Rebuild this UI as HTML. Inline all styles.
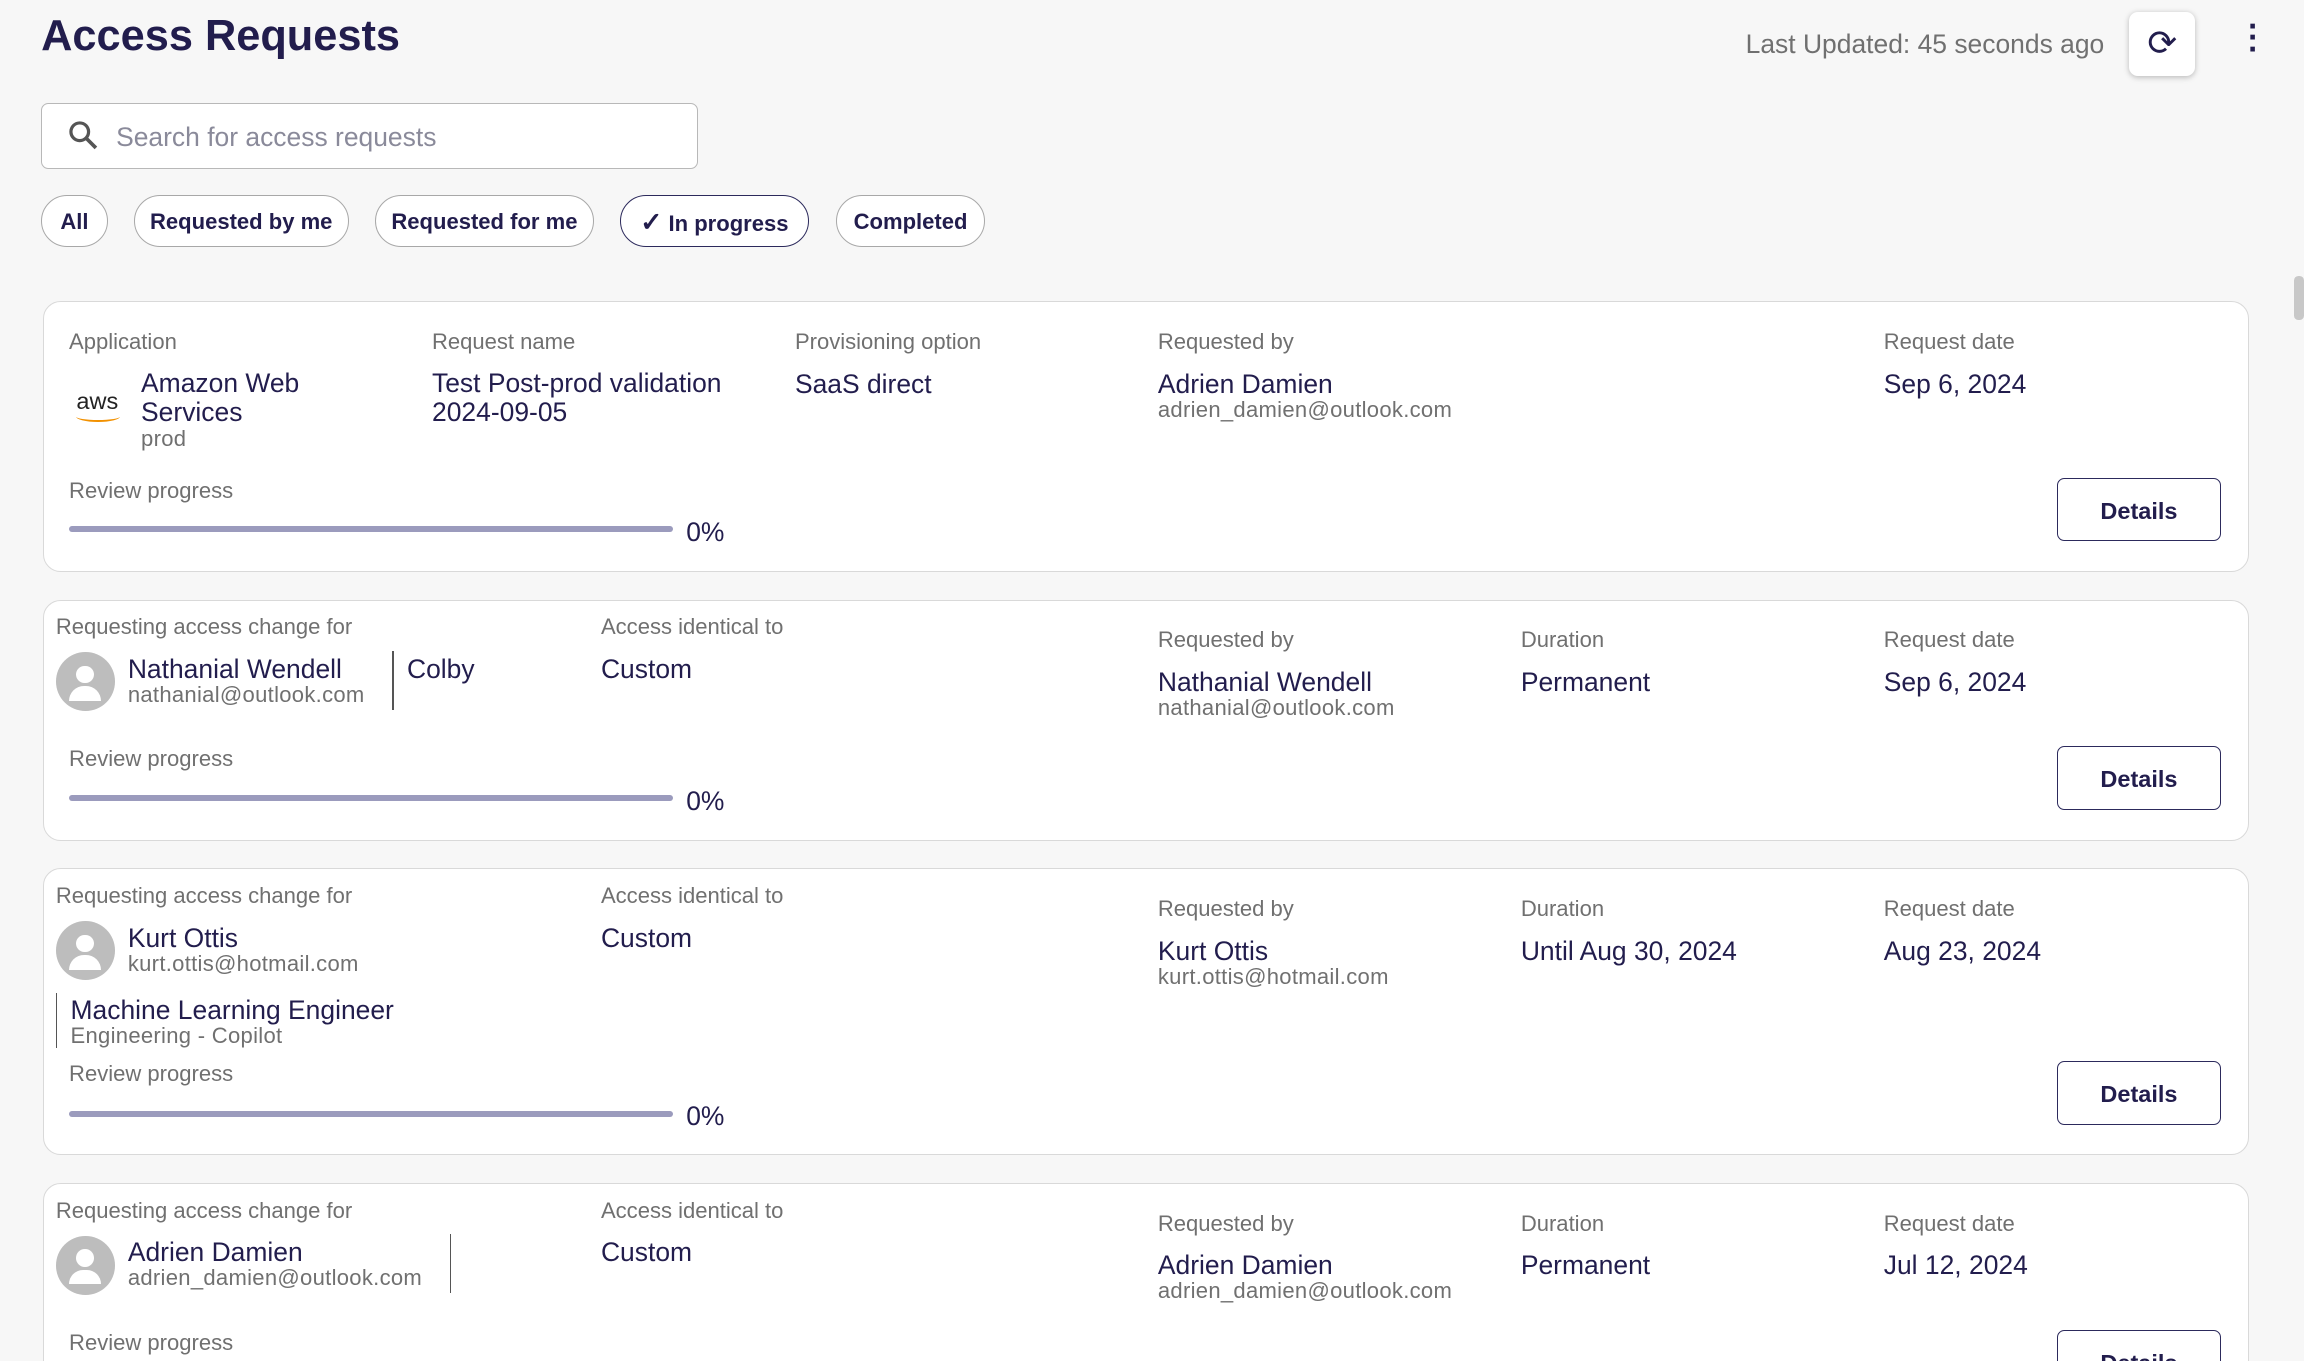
<!DOCTYPE html>
<html><head><meta charset="utf-8"><style>
html,body{margin:0;padding:0;background:#f7f7f7;overflow:hidden}
body{width:2304px;height:1361px}
#r{zoom:1.46939;position:relative;width:1568px;height:926px;font-family:"Liberation Sans",sans-serif;color:#221d4d}
.a{position:absolute;white-space:nowrap}
.lb{font-size:15px;color:#707070;margin-top:1px}
.v{font-size:18px;color:#221d4d;margin-top:1px}
.em{font-size:15px;color:#707070;margin-top:1px;letter-spacing:0.2px}
.card{position:absolute;left:29px;width:1500px;background:#fff;border:1px solid #d9d9d9;border-radius:12px}
.chip{position:absolute;top:133px;height:34px;border:1px solid #a8a8a8;border-radius:18px;font-size:15px;font-weight:bold;line-height:36px;text-align:center;background:#fff;color:#221d4d}
.btn{position:absolute;width:110px;height:42px;border:1px solid #2c2a5c;border-radius:5px;font-size:16px;font-weight:bold;text-align:center;line-height:44px;background:#fff}
.bar{position:absolute;height:4px;width:411px;background:#9b9bbd;border-radius:2px}
.av{position:absolute;width:40px;height:40px;border-radius:50%;background:#bdbdbd;overflow:hidden}
.av:before{content:"";position:absolute;left:14px;top:9px;width:12px;height:12px;border-radius:50%;background:#fff}
.av:after{content:"";position:absolute;left:9px;top:23px;width:22px;height:10px;border-radius:11px 11px 0 0;background:#fff}
.vl{position:absolute;width:1px;background:#555}
</style></head><body><div id="r">
<div class="a" style="left:28px;top:8px;font-size:29.5px;font-weight:bold;color:#221d4d">Access Requests</div>
<div class="a" style="left:1188px;top:20px;font-size:18px;color:#707070">Last Updated: 45 seconds ago</div>
<div class="a" style="left:1449px;top:8px;width:45px;height:44px;background:#fff;border-radius:6px;box-shadow:0 1px 4px rgba(0,0,0,.25);text-align:center;line-height:44px;font-size:24px;color:#221d4d">⟳</div>
<div class="a" style="left:1530px;top:14px;font-size:22px;font-weight:bold;line-height:8px;color:#221d4d">·<br>·<br>·</div>
<div class="a" style="left:28px;top:70px;width:446px;height:44px;border:1px solid #b8b8b8;border-radius:5px;background:#fff"></div>
<svg class="a" style="left:46px;top:82px" width="22" height="22"><circle cx="8" cy="8" r="6" fill="none" stroke="#555" stroke-width="2.2"/><line x1="12.5" y1="12.5" x2="19" y2="19" stroke="#555" stroke-width="2.5"/></svg>
<div class="a" style="left:79px;top:83px;font-size:18px;color:#8a8a9a">Search for access requests</div>
<div class="chip" style="left:28px;width:44px">All</div>
<div class="chip" style="left:91px;width:145px">Requested by me</div>
<div class="chip" style="left:255px;width:148px">Requested for me</div>
<div class="chip" style="left:422px;width:127px;border-color:#2c2a5c"><span style="font-size:18px">✓</span> In progress</div>
<div class="chip" style="left:569px;width:100px">Completed</div>

<div class="card" style="top:205px;height:183px"></div>
<div class="a lb" style="left:47px;top:223px">Application</div>
<div class="a" style="left:52px;top:264px;font-size:16px;color:#222">aws</div>
<div class="a" style="left:52px;top:280px;width:30px;height:6px;border-bottom:2px solid #f29100;border-radius:0 0 50% 50%"></div>
<div class="a v" style="left:96px;top:250px;line-height:20px">Amazon Web<br>Services</div>
<div class="a em" style="left:96px;top:289px">prod</div>
<div class="a lb" style="left:294px;top:223px">Request name</div>
<div class="a v" style="left:294px;top:250px;line-height:20px">Test Post-prod validation<br>2024-09-05</div>
<div class="a lb" style="left:541px;top:223px">Provisioning option</div>
<div class="a v" style="left:541px;top:250px">SaaS direct</div>
<div class="a lb" style="left:788px;top:223px">Requested by</div>
<div class="a v" style="left:788px;top:250px">Adrien Damien</div>
<div class="a em" style="left:788px;top:269px">adrien_damien@outlook.com</div>
<div class="a lb" style="left:1282px;top:223px">Request date</div>
<div class="a v" style="left:1282px;top:250px">Sep 6, 2024</div>
<div class="a lb" style="left:47px;top:324px">Review progress</div>
<div class="bar" style="left:47px;top:358px"></div>
<div class="a v" style="left:467px;top:351px">0%</div>
<div class="btn" style="left:1400px;top:325px">Details</div>

<div class="card" style="top:408px;height:163px"></div>
<div class="a lb" style="left:38px;top:417px">Requesting access change for</div>
<div class="av" style="left:38px;top:444px"></div>
<div class="a v" style="left:87px;top:444px">Nathanial Wendell</div>
<div class="a em" style="left:87px;top:463px">nathanial@outlook.com</div>
<div class="vl" style="left:267px;top:443px;height:40px"></div>
<div class="a v" style="left:277px;top:444px">Colby</div>
<div class="a lb" style="left:409px;top:417px">Access identical to</div>
<div class="a v" style="left:409px;top:444px">Custom</div>
<div class="a lb" style="left:788px;top:426px">Requested by</div>
<div class="a v" style="left:788px;top:453px">Nathanial Wendell</div>
<div class="a em" style="left:788px;top:472px">nathanial@outlook.com</div>
<div class="a lb" style="left:1035px;top:426px">Duration</div>
<div class="a v" style="left:1035px;top:453px">Permanent</div>
<div class="a lb" style="left:1282px;top:426px">Request date</div>
<div class="a v" style="left:1282px;top:453px">Sep 6, 2024</div>
<div class="a lb" style="left:47px;top:507px">Review progress</div>
<div class="bar" style="left:47px;top:541px"></div>
<div class="a v" style="left:467px;top:534px">0%</div>
<div class="btn" style="left:1400px;top:508px">Details</div>

<div class="card" style="top:591px;height:194px"></div>
<div class="a lb" style="left:38px;top:600px">Requesting access change for</div>
<div class="av" style="left:38px;top:627px"></div>
<div class="a v" style="left:87px;top:627px">Kurt Ottis</div>
<div class="a em" style="left:87px;top:646px">kurt.ottis@hotmail.com</div>
<div class="vl" style="left:38px;top:676px;height:37px"></div>
<div class="a v" style="left:48px;top:676px">Machine Learning Engineer</div>
<div class="a em" style="left:48px;top:695px">Engineering - Copilot</div>
<div class="a lb" style="left:409px;top:600px">Access identical to</div>
<div class="a v" style="left:409px;top:627px">Custom</div>
<div class="a lb" style="left:788px;top:609px">Requested by</div>
<div class="a v" style="left:788px;top:636px">Kurt Ottis</div>
<div class="a em" style="left:788px;top:655px">kurt.ottis@hotmail.com</div>
<div class="a lb" style="left:1035px;top:609px">Duration</div>
<div class="a v" style="left:1035px;top:636px">Until Aug 30, 2024</div>
<div class="a lb" style="left:1282px;top:609px">Request date</div>
<div class="a v" style="left:1282px;top:636px">Aug 23, 2024</div>
<div class="a lb" style="left:47px;top:721px">Review progress</div>
<div class="bar" style="left:47px;top:756px"></div>
<div class="a v" style="left:467px;top:748px">0%</div>
<div class="btn" style="left:1400px;top:722px">Details</div>

<div class="card" style="top:805px;height:160px"></div>
<div class="a lb" style="left:38px;top:814px">Requesting access change for</div>
<div class="av" style="left:38px;top:841px"></div>
<div class="a v" style="left:87px;top:841px">Adrien Damien</div>
<div class="a em" style="left:87px;top:860px">adrien_damien@outlook.com</div>
<div class="vl" style="left:306px;top:840px;height:40px"></div>
<div class="a lb" style="left:409px;top:814px">Access identical to</div>
<div class="a v" style="left:409px;top:841px">Custom</div>
<div class="a lb" style="left:788px;top:823px">Requested by</div>
<div class="a v" style="left:788px;top:850px">Adrien Damien</div>
<div class="a em" style="left:788px;top:869px">adrien_damien@outlook.com</div>
<div class="a lb" style="left:1035px;top:823px">Duration</div>
<div class="a v" style="left:1035px;top:850px">Permanent</div>
<div class="a lb" style="left:1282px;top:823px">Request date</div>
<div class="a v" style="left:1282px;top:850px">Jul 12, 2024</div>
<div class="a lb" style="left:47px;top:904px">Review progress</div>
<div class="btn" style="left:1400px;top:905px">Details</div>
<div class="a" style="left:1561px;top:188px;width:7px;height:30px;background:#c8c8c8;border-radius:3px"></div>
</div></body></html>
